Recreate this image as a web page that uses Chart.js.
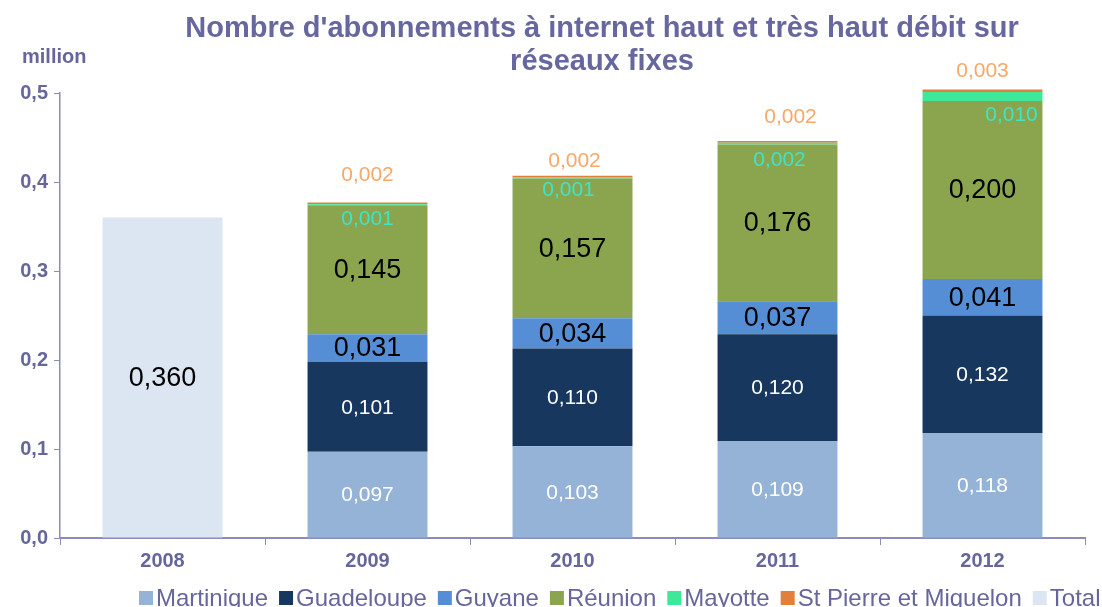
<!DOCTYPE html>
<html><head><meta charset="utf-8">
<script src="https://cdn.jsdelivr.net/npm/chart.js@4/dist/chart.umd.min.js"></script>
<style>html,body{margin:0;padding:0;background:#fff}#wrap{width:1102px;height:607px;position:relative}</style>
</head><body><div id="wrap"><canvas id="c" width="1102" height="607"></canvas></div>
<script>
const categories = ['2008','2009','2010','2011','2012'];
const martinique = [null, 0.097, 0.103, 0.109, 0.118];
const guadeloupe = [null, 0.101, 0.110, 0.120, 0.132];
const guyane     = [null, 0.031, 0.034, 0.037, 0.041];
const reunion    = [null, 0.145, 0.157, 0.176, 0.200];
const mayotte    = [null, 0.001, 0.001, 0.002, 0.010];
const stPierre   = [null, 0.002, 0.002, 0.002, 0.003];
const total      = [0.360, null, null, null, null];
const yTicks = [0, 0.1, 0.2, 0.3, 0.4, 0.5];
const titleLines = ["Nombre d'abonnements à internet haut et très haut débit sur", "réseaux fixes"];
const unitLabel = 'million';

const TXT = '#66669c';
const AXIS = '#8c8cb8';
const FONT = '"Liberation Sans", Arial, sans-serif';

const series = [
  {label:'Martinique', data:martinique, color:'#95b3d7', lbl:{color:'#ffffff', size:21, pos:'center'}},
  {label:'Guadeloupe', data:guadeloupe, color:'#17375e', lbl:{color:'#ffffff', size:21, pos:'center'}},
  {label:'Guyane', data:guyane, color:'#558ed5', lbl:{color:'#000000', size:27, pos:'center'}},
  {label:'Réunion', data:reunion, color:'#8aa54e', lbl:{color:'#000000', size:27, pos:'center'}},
  {label:'Mayotte', data:mayotte, color:'#3de89a', lbl:{color:'#3fe3c6', size:21, pos:'below', dx:[0,0,-4,2,29], dy:[0,13,11,15,13]}},
  {label:'St Pierre et Miquelon', data:stPierre, color:'#e0803a', lbl:{color:'#f8a868', size:21, pos:'above', dx:[0,0,2,13,0], dy:[0,-28,-16,-25,-19]}},
  {label:'Total', data:total, color:'#dce6f2', lbl:{color:'#000000', size:27, pos:'center'}}
];

const fmt = v => v.toFixed(3).replace('.', ',');

const labelsPlugin = {
  id:'customText',
  afterDatasetsDraw(chart){
    const ctx = chart.ctx;
    ctx.save();
    ctx.textAlign = 'center';
    ctx.textBaseline = 'middle';
    series.forEach((s, i) => {
      const meta = chart.getDatasetMeta(i);
      meta.data.forEach((el, j) => {
        const v = s.data[j];
        if (v === null || v === undefined) return;
        const L = s.lbl;
        let x = el.x, y;
        if (L.pos === 'center') y = (el.y + el.base) / 2;
        else if (L.pos === 'below') y = el.base + L.dy[j];
        else y = el.y + L.dy[j];
        if (L.dx) x += L.dx[j];
        ctx.fillStyle = L.color;
        ctx.font = `${L.size}px ${FONT}`;
        ctx.fillText(fmt(v), x, y + 1);
      });
    });
    ctx.restore();
  },
  afterDraw(chart){
    const ctx = chart.ctx;
    ctx.save();
    // title
    ctx.fillStyle = '#6767a0';
    ctx.font = `bold 29px ${FONT}`;
    ctx.textAlign = 'center';
    ctx.textBaseline = 'middle';
    ctx.fillText(titleLines[0], 602, 29);
    ctx.fillText(titleLines[1], 602, 62);
    // unit
    ctx.fillStyle = TXT;
    ctx.font = `bold 20px ${FONT}`;
    ctx.textAlign = 'left';
    ctx.fillText(unitLabel, 22, 57);
    // legend
    ctx.font = `24px ${FONT}`;
    ctx.textBaseline = 'alphabetic';
    let x = 139;
    const by = 591, bs = 14;
    series.forEach(s => {
      ctx.fillStyle = s.color;
      ctx.fillRect(x, by, bs, bs);
      x += bs + 3;
      ctx.fillStyle = TXT;
      ctx.fillText(s.label, x, 606);
      x += ctx.measureText(s.label).width + 11;
    });
    ctx.restore();
  }
};

new Chart(document.getElementById('c'), {
  type:'bar',
  data:{
    labels: categories,
    datasets: series.map(s => ({
      label:s.label, data:s.data, backgroundColor:s.color,
      borderWidth:0, stack:'s', categoryPercentage:1, barPercentage:0.585, clip:false
    }))
  },
  options:{
    responsive:false, animation:false,
    layout:{padding:{top:93, right:17, bottom:0, left:0}},
    plugins:{legend:{display:false}, title:{display:false}, tooltip:{enabled:false}},
    scales:{
      x:{
        stacked:true,
        grid:{display:true, drawOnChartArea:false, offset:true, tickLength:7, color:AXIS, lineWidth:1},
        border:{display:true, color:AXIS, width:2},
        ticks:{color:TXT, font:{family:FONT, size:20, weight:'bold'}, padding:4},
        afterFit(a){ a.height = 69; }
      },
      y:{
        stacked:true, min:0, max:0.5,
        afterBuildTicks(a){ a.ticks = yTicks.map(v => ({value:v})); },
        grid:{display:true, drawOnChartArea:false, tickLength:6, color:AXIS, lineWidth:1},
        border:{display:true, color:AXIS, width:1.5},
        ticks:{color:TXT, font:{family:FONT, size:20, weight:'bold'}, padding:6,
          callback:v => v.toFixed(1).replace('.', ',')},
        afterFit(a){ a.width = 60; }
      }
    }
  },
  plugins:[labelsPlugin]
});
</script></body></html>
